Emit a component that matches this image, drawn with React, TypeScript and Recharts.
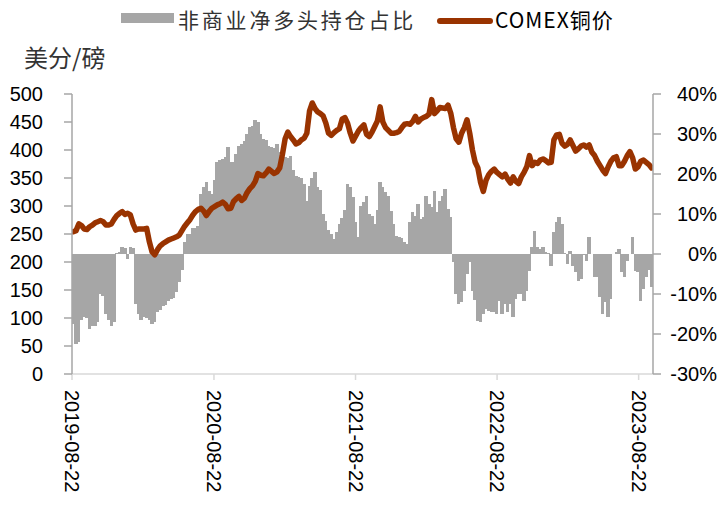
import React from "react";
import { ComposedChart, Bar, Line, XAxis, YAxis } from "recharts";

// weekly, starting 2019-08-20
const netLongPct = [
  -17.5, -22.5, -22, -16.5, -15.8, -16, -18.8, -18, -18, -17,
  -10, -10.5, -15, -16.5, -18, -17, 0.3, 0.5, 1.7, 1.5,
  -1.2, 1.7, 1.5, -12.5, -15, -16.5, -15.8, -16, -16.5, -17.5,
  -17, -14.5, -14, -13, -12.8, -11.7, -11.3, -11, -9.5, -7,
  -4, 3, 5, 5, 6.5, 6.5, 7, 15, 16.7, 18,
  15.8, 15, 18.5, 23, 23.5, 23.75, 24.2, 26.7, 23, 23,
  25, 27, 27.5, 28.3, 30, 31.7, 32, 33.5, 33, 30,
  28.75, 28.5, 27, 26.7, 26.5, 27.5, 25.4, 25, 24.2, 24,
  24.6, 21, 19.6, 19.2, 19, 17.5, 13.3, 17, 19, 20.4,
  16.7, 16, 10, 8.3, 6, 5, 3.75, 5.4, 7.5, 9,
  11, 17.5, 16.7, 14.2, 8, 4.2, 12, 13, 14.6, 10,
  9.6, 7.5, 11, 18, 16.7, 15.5, 14.6, 10.8, 7.5, 4.6,
  4.2, 4, 2.9, 2.5, 7.9, 10.4, 9.6, 12.5, 8.75, 9.2,
  14.6, 12.5, 11.7, 15.8, 10.5, 13.3, 14.6, 16.25, 11.25, 9.2,
  -2, -10, -12.5, -12, -9.2, -5, -2, -9.2, -11.5, -16.7,
  -17, -15, -13.75, -14.2, -14.6, -14.6, -15, -11.7, -15, -12.5,
  -14.6, -12.5, -15.8, -11.25, -10, -10, -11.7, -9.2, -4.2, 1.7,
  5.8, 1.7, 1.25, 1.7, 0.4, 0.2, -3, 5.4, 8, 9.2,
  7.5, 0.3, -2.5, 0.8, -3, -4.6, -6.7, -6.25, -0.3, -1.7,
  4.2, 0, -5.8, -5.8, -10.8, -15, -12, -15.8, -11.25, 0,
  0.4, 1.25, -4.6, -5.8, -1.7, 0, 4.2, -4.2, -4.6, -11.7,
  -8.75, -5.8, -4, -8.3,
];

const copperPrice = [
  254, 256, 268, 265, 259, 258, 263, 266, 270, 272,
  274, 272, 266, 266, 268, 276, 283, 287, 290, 285,
  287, 284, 268, 257, 259, 259, 259, 260, 236, 218,
  213, 222, 229, 233, 236, 239, 241, 243, 245, 248,
  256, 264, 270, 276, 284, 290, 294, 296, 291, 283,
  290, 296, 299, 302, 304, 307, 303, 295, 296, 308,
  313, 317, 310, 314, 324, 331, 336, 344, 358, 355,
  354, 359, 366, 362, 358, 361, 368, 392, 420, 432,
  424, 418, 411, 413, 418, 421, 430, 470, 484, 474,
  468, 465, 461, 448, 430, 426, 431, 435, 438, 455,
  458, 448, 430, 416, 425, 434, 440, 445, 428, 424,
  432, 442, 452, 477, 450, 440, 435, 430, 430, 431,
  433, 440, 446, 447, 446, 451, 460, 450, 455, 458,
  460, 464, 490, 465, 470, 476, 475, 474, 480, 466,
  440, 420, 414, 430, 440, 454, 430, 400, 378, 368,
  342, 326, 346, 356, 362, 366, 360, 356, 352, 357,
  348, 341, 352, 344, 340, 352, 360, 370, 390, 372,
  378, 376, 382, 384, 381, 377, 378, 418, 427, 428,
  412, 407, 410, 418, 408, 398, 402, 407, 409, 405,
  409, 396, 390, 380, 372, 364, 358, 370, 380, 386,
  388, 372, 372, 380, 390, 397, 386, 366, 370, 380,
  382, 378, 374, 368,
];

// x positions of the date ticks, in weeks from the start
const dateTicks = [0, 52.29, 104.43, 156.57, 208.71];
const dateLabels = ["2019-08-22", "2020-08-22", "2021-08-22", "2022-08-22", "2023-08-22"];
const priceTicks = [0, 50, 100, 150, 200, 250, 300, 350, 400, 450, 500];
const pctTicks = [-30, -20, -10, 0, 10, 20, 30, 40];

const data = netLongPct.map((v, i) => ({
  w: i + 0.5,
  pct: v,
  price: copperPrice[i],
}));

const NUM_FONT = "'Liberation Sans', Arial, sans-serif";
const CJK_FONT = "'Noto Sans CJK SC', 'Liberation Sans', sans-serif";
const BAR_GREY = "#a6a6a6";

const DateTick = (props: any) => {
  const { x, y, payload } = props;
  const idx = dateTicks.indexOf(payload.value);
  return (
    <text
      transform={`translate(${x},${y}) rotate(90)`}
      textAnchor="start"
      dominantBaseline="central"
      fontSize={20}
      fontFamily={NUM_FONT}
      fill="#000"
    >
      {dateLabels[idx] ?? ""}
    </text>
  );
};

const PctTick = (props: any) => {
  const { y, payload } = props;
  return (
    <text
      x={717}
      y={y}
      textAnchor="end"
      dominantBaseline="central"
      fontSize={20}
      fontFamily={NUM_FONT}
      fill="#000"
    >
      {`${payload.value}%`}
    </text>
  );
};

// bars touch each other, so draw each one a bit wider than its slot
const SolidBar = (props: any) => {
  const { x, y, width, height } = props;
  if (x == null || y == null || !height) return null;
  const cx = x + width / 2;
  const top = height < 0 ? y + height : y;
  return (
    <rect
      x={cx - 1.7}
      y={top}
      width={3.4}
      height={Math.abs(height)}
      fill={BAR_GREY}
      shapeRendering="crispEdges"
    />
  );
};

export default function App() {
  return (
    <div
      style={{
        position: "absolute",
        left: 0,
        top: 0,
        width: 727,
        height: 507,
        background: "#fff",
      }}
    >
      {/* legend */}
      <div
        style={{
          position: "absolute",
          left: 121,
          top: 13,
          width: 53,
          height: 10,
          background: BAR_GREY,
        }}
      />
      <div
        style={{
          position: "absolute",
          left: 178,
          top: 5,
          fontSize: 21,
          lineHeight: "28px",
          letterSpacing: 2.8,
          fontFamily: CJK_FONT,
          color: "#333",
          whiteSpace: "nowrap",
        }}
      >
        非商业净多头持仓占比
      </div>
      <div
        style={{
          position: "absolute",
          left: 437,
          top: 18,
          width: 56,
          height: 6,
          borderRadius: 3,
          background: "#993300",
        }}
      />
      <div
        style={{
          position: "absolute",
          left: 495,
          top: 5,
          fontSize: 21,
          lineHeight: "28px",
          letterSpacing: 1,
          fontFamily: CJK_FONT,
          color: "#000",
          whiteSpace: "nowrap",
        }}
      >
        COMEX铜价
      </div>
      <div
        style={{
          position: "absolute",
          left: 24,
          top: 42,
          fontSize: 24,
          lineHeight: "30px",
          fontFamily: CJK_FONT,
          color: "#333",
          whiteSpace: "nowrap",
        }}
      >
        美分/磅
      </div>

      <ComposedChart
        width={727}
        height={507}
        data={data}
        margin={{ top: 94, right: 0, bottom: 0, left: 0 }}
      >
        <XAxis
          dataKey="w"
          type="number"
          domain={[0, 214]}
          ticks={dateTicks}
          interval={0}
          height={133}
          tick={<DateTick />}
          tickSize={6}
          tickMargin={10}
          axisLine={{ stroke: "#d9d9d9", strokeWidth: 1.5 }}
          tickLine={{ stroke: "#d9d9d9", strokeWidth: 1.5 }}
          allowDataOverflow
        />
        <YAxis
          yAxisId="left"
          orientation="left"
          width={72}
          domain={[0, 500]}
          ticks={priceTicks}
          interval={0}
          tickSize={8}
          tickMargin={21}
          tick={{ fontSize: 20, fill: "#000", fontFamily: NUM_FONT }}
          axisLine={{ stroke: "#a6a6a6", strokeWidth: 1.5 }}
          tickLine={{ stroke: "#a6a6a6", strokeWidth: 1.5 }}
        />
        <YAxis
          yAxisId="right"
          orientation="right"
          width={74}
          domain={[-30, 40]}
          ticks={pctTicks}
          interval={0}
          tickSize={8}
          tick={<PctTick />}
          axisLine={{ stroke: "#a6a6a6", strokeWidth: 1.5 }}
          tickLine={{ stroke: "#a6a6a6", strokeWidth: 1.5 }}
        />
        <Bar
          yAxisId="right"
          dataKey="pct"
          fill={BAR_GREY}
          barSize={3}
          shape={<SolidBar />}
          isAnimationActive={false}
        />
        <Line
          yAxisId="left"
          dataKey="price"
          type="linear"
          stroke="#993300"
          strokeWidth={5.5}
          strokeLinejoin="round"
          strokeLinecap="round"
          dot={false}
          isAnimationActive={false}
        />
      </ComposedChart>
    </div>
  );
}
